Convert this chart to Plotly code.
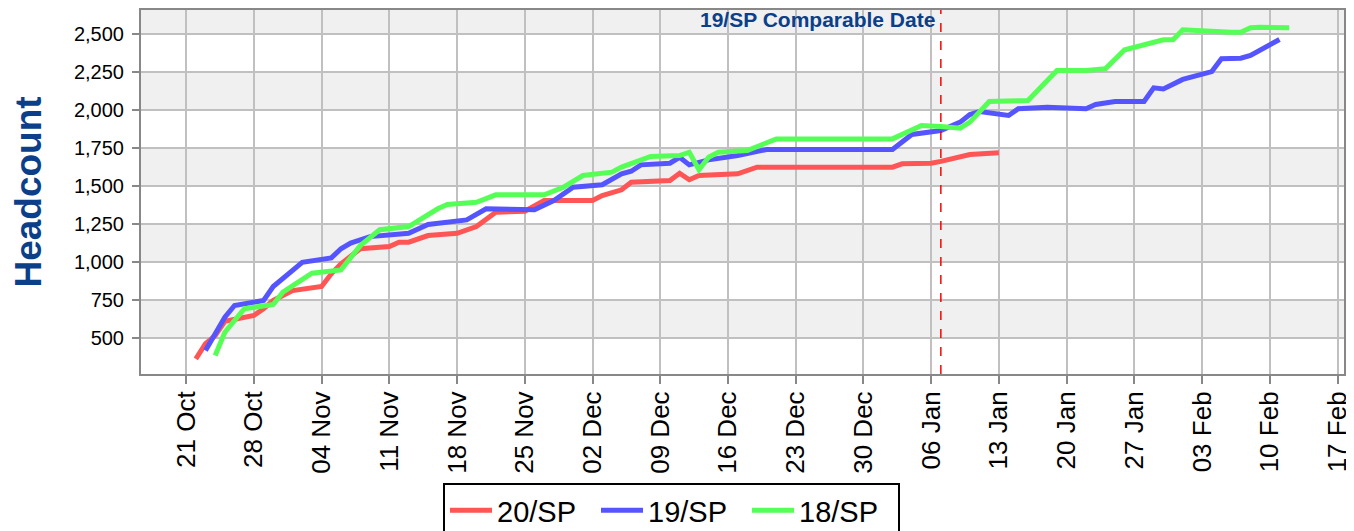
import plotly.graph_objects as go
import pandas as pd

# ---- data ----
sp20_dates = ["2019-10-22", "2019-10-23", "2019-10-24", "2019-10-25", "2019-10-28", "2019-10-29",
              "2019-10-30", "2019-11-01", "2019-11-04", "2019-11-05", "2019-11-06", "2019-11-08",
              "2019-11-11", "2019-11-12", "2019-11-13", "2019-11-15", "2019-11-18", "2019-11-20",
              "2019-11-22", "2019-11-25", "2019-11-27", "2019-12-02", "2019-12-03", "2019-12-05",
              "2019-12-06", "2019-12-10", "2019-12-11", "2019-12-12", "2019-12-13", "2019-12-17",
              "2019-12-19", "2020-01-02", "2020-01-03", "2020-01-06", "2020-01-07", "2020-01-09",
              "2020-01-10", "2020-01-13"]
sp20_values = [363, 462, 516, 610, 648, 692, 747, 812, 839, 922, 988, 1087, 1102, 1130, 1130,
               1174, 1189, 1233, 1327, 1334, 1404, 1404, 1437, 1475, 1525, 1536, 1584, 1541,
               1569, 1580, 1624, 1624, 1646, 1650, 1662, 1690, 1707, 1718]

sp19_dates = ["2019-10-23", "2019-10-25", "2019-10-26", "2019-10-29", "2019-10-30", "2019-11-01",
              "2019-11-02", "2019-11-05", "2019-11-06", "2019-11-07", "2019-11-09", "2019-11-13",
              "2019-11-15", "2019-11-19", "2019-11-21", "2019-11-26", "2019-11-28", "2019-11-30",
              "2019-12-03", "2019-12-05", "2019-12-06", "2019-12-07", "2019-12-10", "2019-12-11",
              "2019-12-12", "2019-12-14", "2019-12-17", "2019-12-20", "2020-01-02", "2020-01-04",
              "2020-01-07", "2020-01-09", "2020-01-10", "2020-01-11", "2020-01-14", "2020-01-15",
              "2020-01-18", "2020-01-22", "2020-01-23", "2020-01-25", "2020-01-28", "2020-01-29",
              "2020-01-30", "2020-02-01", "2020-02-04", "2020-02-05", "2020-02-07", "2020-02-08",
              "2020-02-11"]
sp19_values = [417, 637, 714, 747, 839, 939, 998, 1027, 1087, 1124, 1167, 1189, 1247, 1277,
               1350, 1343, 1404, 1492, 1508, 1580, 1597, 1639, 1650, 1689, 1639, 1672, 1701,
               1740, 1740, 1839, 1865, 1920, 1970, 1990, 1964, 2008, 2018, 2008, 2036, 2056,
               2056, 2146, 2139, 2201, 2253, 2337, 2341, 2359, 2464]

sp18_dates = ["2019-10-24", "2019-10-25", "2019-10-26", "2019-10-27", "2019-10-30", "2019-10-31",
              "2019-11-03", "2019-11-06", "2019-11-08", "2019-11-10", "2019-11-13", "2019-11-16",
              "2019-11-17", "2019-11-20", "2019-11-22", "2019-11-27", "2019-11-29", "2019-12-01",
              "2019-12-04", "2019-12-05", "2019-12-08", "2019-12-11", "2019-12-12", "2019-12-13",
              "2019-12-14", "2019-12-15", "2019-12-18", "2019-12-21", "2020-01-02", "2020-01-05",
              "2020-01-07", "2020-01-09", "2020-01-10", "2020-01-12", "2020-01-16", "2020-01-19",
              "2020-01-22", "2020-01-24", "2020-01-26", "2020-01-30", "2020-01-31", "2020-02-01",
              "2020-02-06", "2020-02-07", "2020-02-08", "2020-02-09", "2020-02-12"]
sp18_values = [385, 538, 615, 692, 720, 801, 926, 948, 1108, 1212, 1233, 1350, 1378, 1393,
               1442, 1442, 1492, 1569, 1591, 1624, 1694, 1700, 1722, 1607, 1689, 1722, 1733,
               1810, 1810, 1898, 1891, 1880, 1920, 2056, 2062, 2260, 2260, 2271, 2396, 2462,
               2462, 2528, 2512, 2512, 2541, 2545, 2541]

series_names = ["20/SP", "19/SP", "18/SP"]
series_colors = ["#FF5555", "#5555FF", "#55FF55"]

y_ticks = [500, 750, 1000, 1250, 1500, 1750, 2000, 2250, 2500]
y_range = [263, 2658]
x_range = ["2019-10-16 08:00", "2020-02-17 16:00"]
x_tick_start = "2019-10-21"
comparable_date = "2020-01-07"
comparable_label = "19/SP Comparable Date"

# page body has an 8px default margin; size the figure so it fills the rest of the window
PAGE_W, PAGE_H, BODY = 1354, 531, 8
FIG_W, FIG_H = PAGE_W - BODY, PAGE_H - BODY

fig = go.Figure()
for name, color, d, v in zip(series_names, series_colors,
                             [sp20_dates, sp19_dates, sp18_dates],
                             [sp20_values, sp19_values, sp18_values]):
    fig.add_trace(go.Scatter(x=pd.to_datetime(d), y=v, mode="lines", name=name,
                             line=dict(color=color, width=5)))

# alternating background bands (derived from tick values)
step = y_ticks[1] - y_ticks[0]
band_edges = y_ticks + [y_ticks[-1] + step]
for i, lo in enumerate(band_edges[:-1]):
    if i % 2 == 0:
        fig.add_shape(type="rect", xref="paper", x0=0, x1=1, yref="y", y0=lo, y1=lo + step,
                      fillcolor="#F0F0F0", line_width=0, layer="below")

# comparable date line
fig.add_shape(type="line", xref="x", x0=comparable_date, x1=comparable_date, yref="paper", y0=0, y1=1,
              line=dict(color="#FF0000", width=1.5, dash="dash"), layer="above")
fig.add_annotation(x=comparable_date, xref="x", y=0.974, yref="paper", text=f"<b>{comparable_label}</b>",
                   showarrow=False, xanchor="right", yanchor="middle", xshift=-4,
                   font=dict(family="Liberation Sans, Arial", size=21, color="#0B3F8A"))

fig.update_layout(
    width=FIG_W, height=FIG_H,
    margin=dict(l=141 - BODY, r=10, t=10 - BODY, b=157, autoexpand=False),
    paper_bgcolor="white", plot_bgcolor="white",
    font=dict(family="Liberation Sans, Arial", color="black"),
    showlegend=True,
    legend=dict(orientation="h", x=(443 - BODY) / FIG_W, xanchor="left", xref="container",
                y=1 - (483 - BODY) / FIG_H, yanchor="top", yref="container",
                bordercolor="black", borderwidth=2, bgcolor="white",
                itemwidth=42, entrywidth=94, entrywidthmode="pixels",
                font=dict(size=29, family="Liberation Sans, Arial")),
)
fig.update_xaxes(type="date", range=x_range, tick0=x_tick_start, dtick=7 * 24 * 3600 * 1000,
                 tickformat="%d %b", tickangle=-90, tickfont=dict(size=26), automargin=False,
                 showgrid=True, gridcolor="#C0C0C0", gridwidth=2,
                 showline=True, linecolor="#888888", linewidth=2, mirror=True,
                 ticks="outside", ticklen=8, tickwidth=2, tickcolor="#888888", zeroline=False,
                 ticklabelstandoff=-3)
fig.update_yaxes(range=y_range, tickvals=y_ticks, tickformat=",", tickfont=dict(size=20), automargin=False,
                 showgrid=True, gridcolor="#C0C0C0", gridwidth=2,
                 showline=True, linecolor="#888888", linewidth=2, mirror=True,
                 ticks="outside", ticklen=7, tickwidth=2, tickcolor="#888888", zeroline=False,
                 ticklabelstandoff=4,
                 title=dict(text="<b>Headcount</b>", font=dict(size=37, color="#0B3F8A"), standoff=40))

fig.write_html("out.html")
